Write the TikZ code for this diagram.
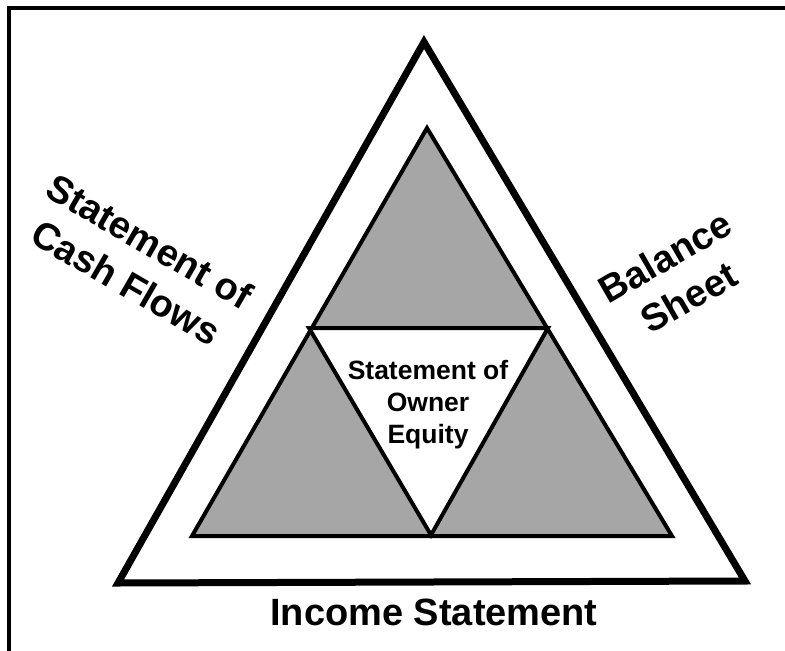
\documentclass[tikz,border=0pt]{standalone}
\usepackage{fontspec}
\setmainfont{Liberation Sans}

\begin{document}
\begin{tikzpicture}[x=1pt,y=-1pt,
    label/.style={font=\fontsize{38}{47}\selectfont\bfseries, align=center, inner sep=0pt},
    small/.style={font=\fontsize{26.5}{32}\selectfont\bfseries, align=center, inner sep=0pt}]

    \useasboundingbox (0,0) rectangle (785,651);

 % Frame (only left and top edges show)
    \draw[line width=4] (9,651) -- (9,8) -- (785,8);

 % Corners of the triangles
    \coordinate (O1) at (424,42);  \coordinate (O2) at (118,583); \coordinate (O3) at (745,581);
    \coordinate (I1) at (427,128); \coordinate (I2) at (192,536); \coordinate (I3) at (672,536);
    \coordinate (M1) at (309,328); \coordinate (M2) at (548,328); \coordinate (M3) at (431,535);

 % Shade the inner triangle, leave the middle one white
    \fill[black!35] (I1) -- (I2) -- (I3) -- cycle;
    \fill[white] (M1) -- (M2) -- (M3) -- cycle;

 % Draw the triangles
    \draw[line width=7, line join=miter] (O1) -- (O2) -- (O3) -- cycle; % outer
    \draw[line width=4, line join=miter] (I1) -- (I2) -- (I3) -- cycle; % inner
    \draw[line width=4, line join=miter] (M1) -- (M2) -- (M3) -- cycle; % middle

 % Labels
    \node[label, rotate=-30] (cash) at (138,262) {Statement of\\Cash Flows};
    \node[label, rotate=30] (balance) at (677,277) {Balance\\Sheet};
    \node[label, anchor=base] (income) at (434,625) {Income Statement};
    \node[small] (equity) at (428,405) {Statement of\\Owner\\Equity};

\end{tikzpicture}
\end{document}
